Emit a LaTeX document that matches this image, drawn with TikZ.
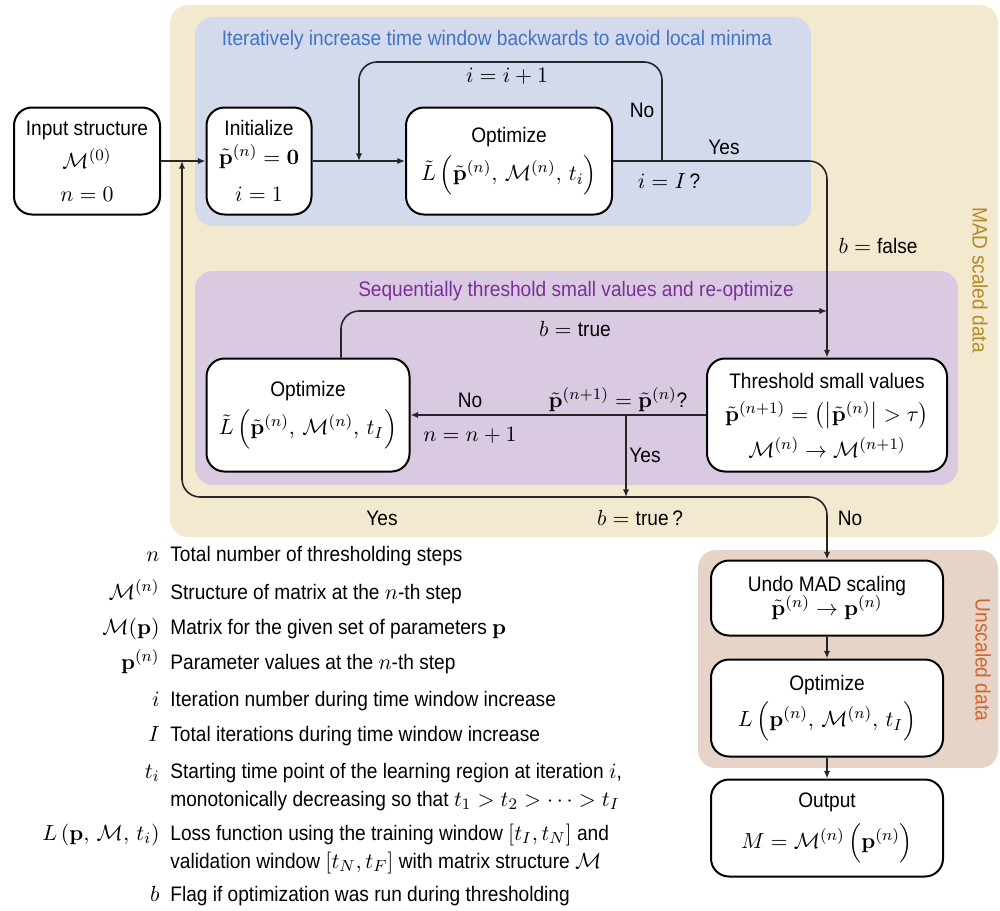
\documentclass[tikz,border=0pt]{standalone}
\usepackage{amsmath}
\usepackage[no-math]{fontspec}
\setmainfont[FakeStretch=0.91]{Liberation Sans}
\DeclareMathSizes{10.5}{10.95}{8}{6}
\usetikzlibrary{arrows.meta}
\definecolor{madbg}{HTML}{F3E9CF}
\definecolor{iterbg}{HTML}{D3DAEB}
\definecolor{thrbg}{HTML}{D9CAE1}
\definecolor{unsbg}{HTML}{E7D4C8}
\definecolor{iterfg}{HTML}{4472C4}
\definecolor{thrfg}{HTML}{7A2E9A}
\definecolor{madfg}{HTML}{B48A28}
\definecolor{unsfg}{HTML}{D2642A}
\tikzset{box/.style={draw,fill=white,rounded corners=9pt,line width=1pt,align=center,inner sep=2pt}}
\tikzset{flow/.style={draw=black!85,line width=0.8pt,rounded corners=9pt,-{Latex[length=3.8pt,width=3.2pt]}}}
\tikzset{wire/.style={draw=black!85,line width=0.8pt}}
\tikzset{region/.style={rounded corners=9pt}}
\tikzset{legend/.style={inner sep=0pt}}

\begin{document}
\begin{tikzpicture}[x=0.5pt,y=-0.5pt,font=\fontsize{10.5}{12.6}\selectfont]
          \useasboundingbox (0,0) rectangle (1000,910);
          % shaded regions
          \fill[madbg,region] (170,5) rectangle (998,537);
          \fill[iterbg,region] (195,17) rectangle (811,226);
          \fill[thrbg,region] (195,271) rectangle (958,485);
          \fill[unsbg,region] (698,550) rectangle (998,768);
          \node[text=iterfg] (itertitle) at (497,40) {Iteratively increase time window backwards to avoid local minima};
          \node[text=thrfg] (thrtitle) at (576,291) {Sequentially threshold small values and re-optimize};
          \node[text=madfg,rotate=-90] (madlabel) at (980,280) {MAD scaled data};
          \node[text=unsfg,rotate=-90] (unslabel) at (983,660) {Unscaled data};

          % steps
          \node[box,minimum width=73pt,minimum height=53.5pt] (input) at (87,161)
               {Input structure\\[4pt] $\mathcal{M}^{(0)}$\\[4pt] $n=0$};
          \node[box,minimum width=52.5pt,minimum height=53.5pt] (init) [right of=input,node distance=86pt]
               {Initialize\\[1.5pt] $\tilde{\mathbf{p}}^{(n)}=\mathbf{0}$\\[6pt] $i=1$};
          \node[box,minimum width=103pt,minimum height=53.5pt] (opt1) [right of=init,node distance=125pt]
               {Optimize\\[3.5pt] $\tilde{L}\,\Bigl(\tilde{\mathbf{p}}^{(n)},\,\mathcal{M}^{(n)},\,t_i\Bigr)$};
          \node[box,minimum width=120pt,minimum height=56.5pt] (thresh) at (827,415)
               {Threshold small values\\[4pt] $\tilde{\mathbf{p}}^{(n+1)}=\bigl(\bigl|\tilde{\mathbf{p}}^{(n)}\bigr|>\tau\bigr)$\\[3pt]
                $\mathcal{M}^{(n)}\rightarrow\mathcal{M}^{(n+1)}$};
          \node[box,minimum width=101.5pt,minimum height=56.5pt] (opt2) [left of=thresh,node distance=259.5pt]
               {Optimize\\[3.5pt] $\tilde{L}\,\Bigl(\tilde{\mathbf{p}}^{(n)},\,\mathcal{M}^{(n)},\,t_I\Bigr)$};
          \node[box,minimum width=116pt,minimum height=37.5pt] (undo) [below of=thresh,node distance=91.5pt]
               {Undo MAD scaling\\[-1pt] $\tilde{\mathbf{p}}^{(n)}\rightarrow\mathbf{p}^{(n)}$};
          \node[box,minimum width=116pt,minimum height=48.5pt] (opt3) [below of=undo,node distance=55pt]
               {Optimize\\[2.5pt] $L\,\Bigl(\mathbf{p}^{(n)},\,\mathcal{M}^{(n)},\,t_I\Bigr)$};
          \node[box,minimum width=116pt,minimum height=48.5pt] (output) [below of=opt3,node distance=60pt]
               {Output\\[4.5pt] $M=\mathcal{M}^{(n)}\,\Bigl(\mathbf{p}^{(n)}\Bigr)$};

          % branch points
          \coordinate (back) at (182,161);
          \coordinate (loopin) at (359,161);
          \coordinate (decI) at (662,161);
          \coordinate (merge) at (827,311);
          \coordinate (decP) at (626,415);
          \coordinate (decB) at (626,497);

          \draw[flow] (input) -- (init);
          \draw[flow] (init) -- (opt1);
          \draw[wire] (opt1) -- (decI);
          \draw[flow] (decI) -- ++(0,-99) -| (loopin);
          \draw[flow] (decI) -| (thresh.north);
          \draw[flow] ([xshift=16.5pt]opt2.north) |- (merge);
          \draw[flow] (thresh) -- (opt2);
          \draw[flow] (decP) -- (decB);
          \draw[flow] (decB) -| (back);
          \draw[flow] (decB) -| (undo.north);
          \draw[flow] (undo) -- (opt3);
          \draw[flow] (opt3) -- (output);

          % connector labels
          \node (incr) at (507,76) {$i=i+1$};
          \node (no1) at (642,110) {No};
          \node (yes1) at (724,147) {Yes};
          \node (askI) at (669,181) {$i=I\,$?};
          \node (bfalse) at (878,246) {$b=\text{false}$};
          \node (btrue) at (575,329) {$b=\text{true}$};
          \node (no2) at (470,400) {No};
          \node (askP) at (618,400) {$\tilde{\mathbf{p}}^{(n+1)}=\tilde{\mathbf{p}}^{(n)}$?};
          \node (nplus) at (470,435) {$n=n+1$};
          \node (yes2) at (645,455) {Yes};
          \node (yes3) at (382,518) {Yes};
          \node (askB) at (640,518) {$b=\text{true}\,$?};
          \node (no3) at (850,518) {No};

          % legend
          \foreach \y/\sym [count=\k] in {561/{$n$},599/{$\mathcal{M}^{(n)}$},634/{$\mathcal{M}(\mathbf{p})$},
                669/{$\mathbf{p}^{(n)}$},706/{$i$},741/{$I$},778/{$t_i$},
                840/{$L\left(\mathbf{p},\,\mathcal{M},\,t_i\right)$},901/{$b$}}
            \node[legend,anchor=base east] (sym\k) at (160,\y) {\sym};
          \foreach \y/\txt [count=\k] in {561/{Total number of thresholding steps},
                599/{Structure of matrix at the $n$-th step},
                634/{Matrix for the given set of parameters $\mathbf{p}$},
                669/{Parameter values at the $n$-th step},
                706/{Iteration number during time window increase},
                741/{Total iterations during time window increase},
                778/{Starting time point of the learning region at iteration $i$,},
                806/{monotonically decreasing so that $t_1>t_2>\cdots>t_I$},
                840/{Loss function using the training window $[t_I,t_N]$ and},
                868/{validation window $[t_N,t_F]$ with matrix structure $\mathcal{M}$},
                901/{Flag if optimization was run during thresholding}}
            \node[legend,anchor=base west] (desc\k) at (170,\y) {\txt};
        \end{tikzpicture}
\end{document}
